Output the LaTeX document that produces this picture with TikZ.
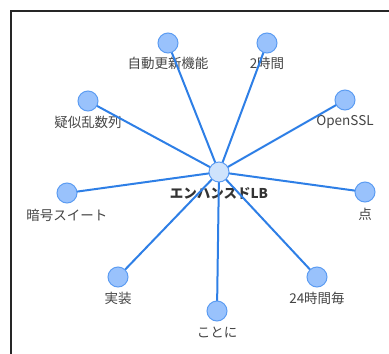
\documentclass[tikz,border=0pt]{standalone}
\usepackage{fontspec}
\newfontfamily\jp{Noto Sans CJK JP}
\definecolor{edgec}{HTML}{2E7FE6}
\definecolor{leaff}{HTML}{99C2FC}
\definecolor{leafd}{HTML}{5C9CF2}
\definecolor{hubf}{HTML}{CFE3FC}
\definecolor{txt}{HTML}{444444}
\tikzset{
  leaf/.style={circle,draw=leafd,fill=leaff,line width=1pt,minimum size=20pt,inner sep=0pt},
  hub/.style={circle,draw=leafd,fill=hubf,line width=1pt,minimum size=20pt,inner sep=0pt},
  lbl/.style={text=txt,font=\jp\fontsize{13.5}{16}\selectfont,inner sep=0pt},
  link/.style={draw=edgec,line width=2pt}
}
\begin{document}
\begin{tikzpicture}[x=1pt,y=-1pt]
\useasboundingbox (0,0) rectangle (389,354);
\draw[line width=2pt,color=black!85] (11,355) -- (11,11) -- (390,11);
\node[lbl] (l1) at (168,63) {自動更新機能};
\node[lbl] (l2) at (267,63) {2時間};
\node[lbl] (l3) at (88,122) {疑似乱数列};
\node[lbl] (l4) at (345,122) {OpenSSL};
\node[lbl] (l5) at (67,215) {暗号スイート};
\node[lbl] (l6) at (365,214) {点};
\node[lbl] (l7) at (118,298) {実装};
\node[lbl] (l8) at (217,332) {ことに};
\node[lbl] (l9) at (317,298) {24時間毎};
\node[lbl,font=\jp\bfseries\fontsize{13.5}{16}\selectfont,text=black!80] (l0) at (219,193) {エンハンスドLB};
\coordinate (hc) at (219,172);
\coordinate (c1) at (168,43);
\coordinate (c2) at (267,43);
\coordinate (c3) at (88,101);
\coordinate (c4) at (345,100);
\coordinate (c5) at (67,193);
\coordinate (c6) at (365,192);
\coordinate (c7) at (118,277);
\coordinate (c8) at (217,311);
\coordinate (c9) at (317,277);
\foreach \n in {c1,c2,c3,c4,c5,c6,c7,c8,c9} \draw[link] (hc) -- (\n);
\node[leaf] (n1) at (c1) {};
\node[leaf] (n2) at (c2) {};
\node[leaf] (n3) at (c3) {};
\node[leaf] (n4) at (c4) {};
\node[leaf] (n5) at (c5) {};
\node[leaf] (n6) at (c6) {};
\node[leaf] (n7) at (c7) {};
\node[leaf] (n8) at (c8) {};
\node[leaf] (n9) at (c9) {};
\node[hub] (hub) at (hc) {};
\end{tikzpicture}
\end{document}
